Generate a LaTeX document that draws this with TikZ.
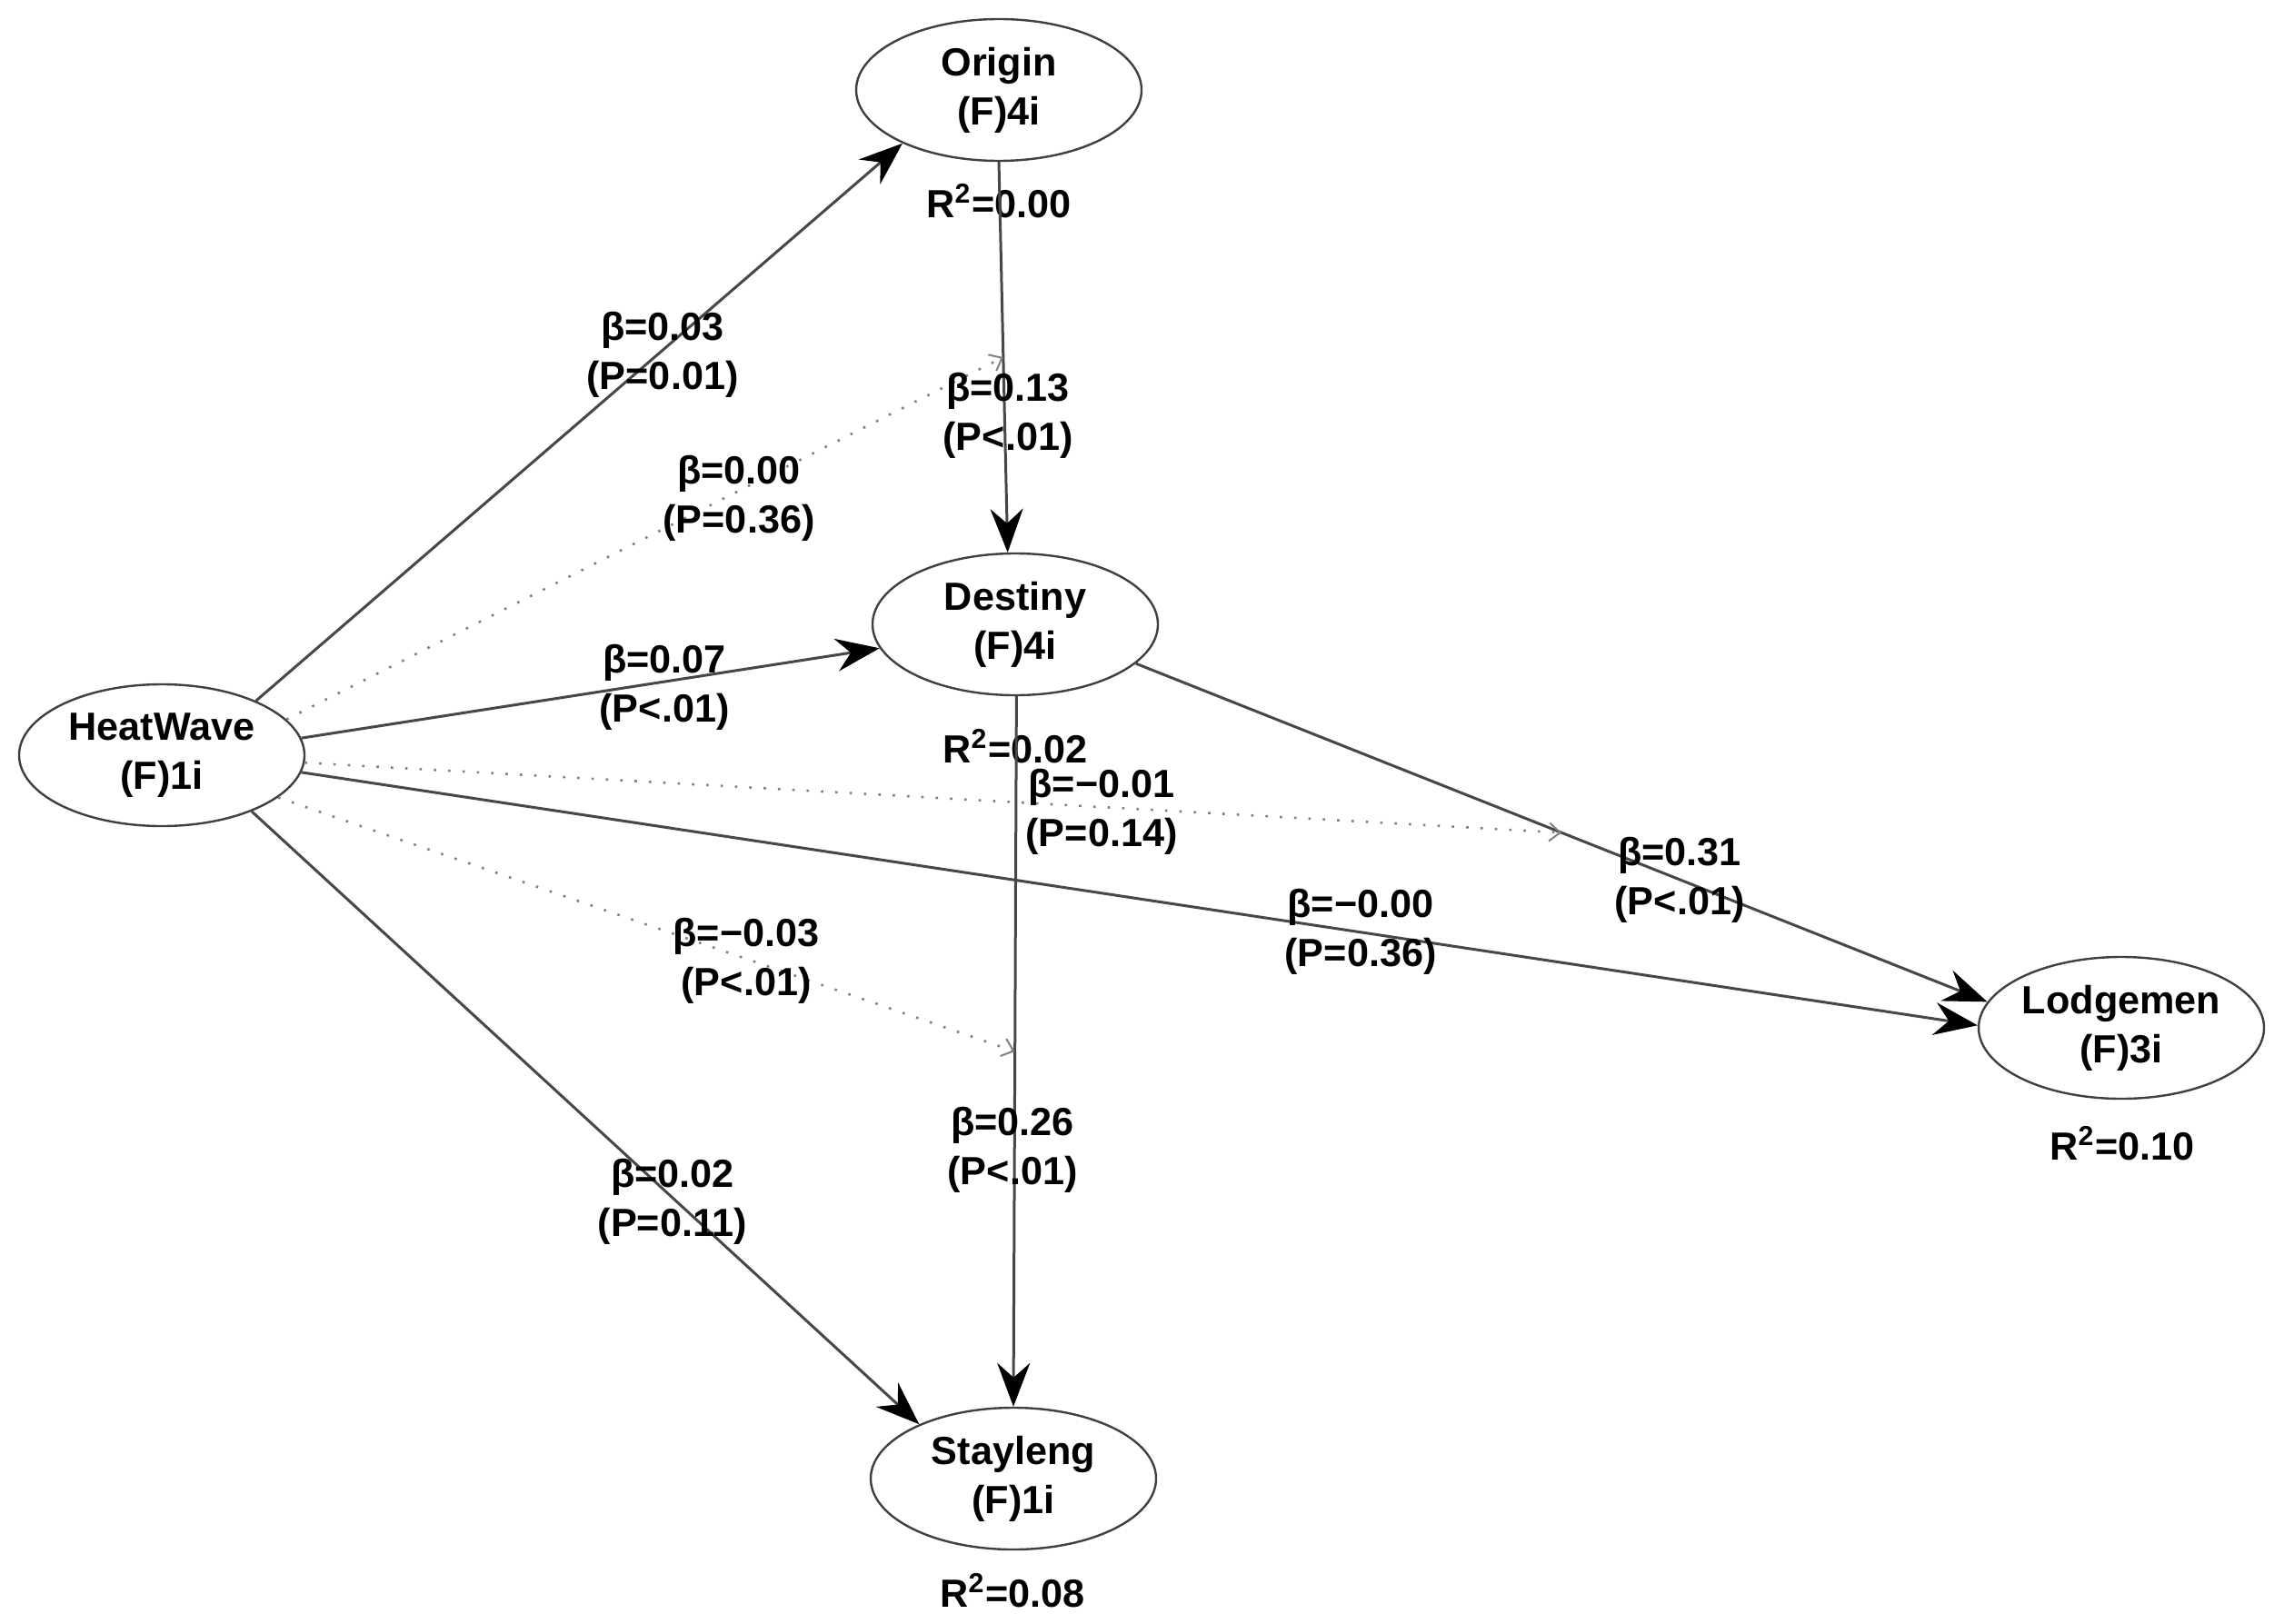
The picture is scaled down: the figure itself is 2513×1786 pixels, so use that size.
\documentclass[tikz,border=0pt]{standalone}
\usepackage{fontspec}
\setmainfont{Liberation Sans}
\usetikzlibrary{shapes.geometric,arrows.meta}
\begin{document}
\begin{tikzpicture}[x=0.25pt,y=-0.25pt,
  font=\bfseries\fontsize{10.8}{13.5}\selectfont,
  lv/.style={ellipse,draw=black!75,line width=0.6pt,inner sep=0pt,
    minimum width=78.5pt,minimum height=39pt,align=center},
  pathlbl/.style={align=center,inner sep=0pt},
  rsq/.style={inner sep=0pt},
  solidarr/.style={draw=black!72,line width=0.75pt,
    -{Stealth[length=12pt,width=9pt,inset=4pt,color=black]}},
  dotarr/.style={draw=black!50,line width=0.65pt,dash pattern=on 0.65pt off 3.3pt,
    -{Straight Barb[length=3pt,width=5pt,line width=0.5pt]}}]
\fill[white] (0,0) rectangle (2513,1786);
\useasboundingbox (0,0) rectangle (2513,1786);

% latent variables
\node[lv] (hw) at (178,831) {HeatWave\\(F)1i};
\node[lv] (or) at (1099,99) {Origin\\(F)4i};
\node[lv] (de) at (1117,687) {Destiny\\(F)4i};
\node[lv] (lo) at (2334,1131) {Lodgemen\\(F)3i};
\node[lv] (st) at (1115,1627) {Stayleng\\(F)1i};

% R squared
\node[rsq] (ror) at (1099,221) {R\textsuperscript{2}=0.00};
\node[rsq] (rde) at (1117,821) {R\textsuperscript{2}=0.02};
\node[rsq] (rlo) at (2335,1258) {R\textsuperscript{2}=0.10};
\node[rsq] (rst) at (1114,1750) {R\textsuperscript{2}=0.08};

% direct paths
\draw[solidarr] (hw.30) -- (or.209);
\draw[solidarr] (or.270) -- coordinate[pos=0.5] (m1) (de.96);
\draw[solidarr] (hw.7) -- (de.190);
\draw[solidarr] (de.342) -- coordinate[pos=0.5] (m2) (lo.169);
\draw[solidarr] (hw.353) -- (lo.179);
\draw[solidarr] (de.271) -- coordinate[pos=0.5] (m3) (st.90);
\draw[solidarr] (hw.328) -- (st.150);

% moderating (dotted) paths
\draw[dotarr] (hw.16) -- (m1);
\draw[dotarr] (hw.357) -- (m2);
\draw[dotarr] (hw.340) -- (m3);

% path labels
\node[pathlbl] (l1) at (729,390) {β=0.03\\(P=0.01)};
\node[pathlbl] (l2) at (1109,457) {β=0.13\\(P<.01)};
\node[pathlbl] (l3) at (813,548) {β=0.00\\(P=0.36)};
\node[pathlbl] (l4) at (731,756) {β=0.07\\(P<.01)};
\node[pathlbl] (l5) at (1212,893) {β=−0.01\\(P=0.14)};
\node[pathlbl] (l6) at (1848,968) {β=0.31\\(P<.01)};
\node[pathlbl] (l7) at (1497,1025) {β=−0.00\\(P=0.36)};
\node[pathlbl] (l8) at (821,1057) {β=−0.03\\(P<.01)};
\node[pathlbl] (l9) at (1114,1265) {β=0.26\\(P<.01)};
\node[pathlbl] (l10) at (740,1322) {β=0.02\\(P=0.11)};
\end{tikzpicture}
\end{document}
